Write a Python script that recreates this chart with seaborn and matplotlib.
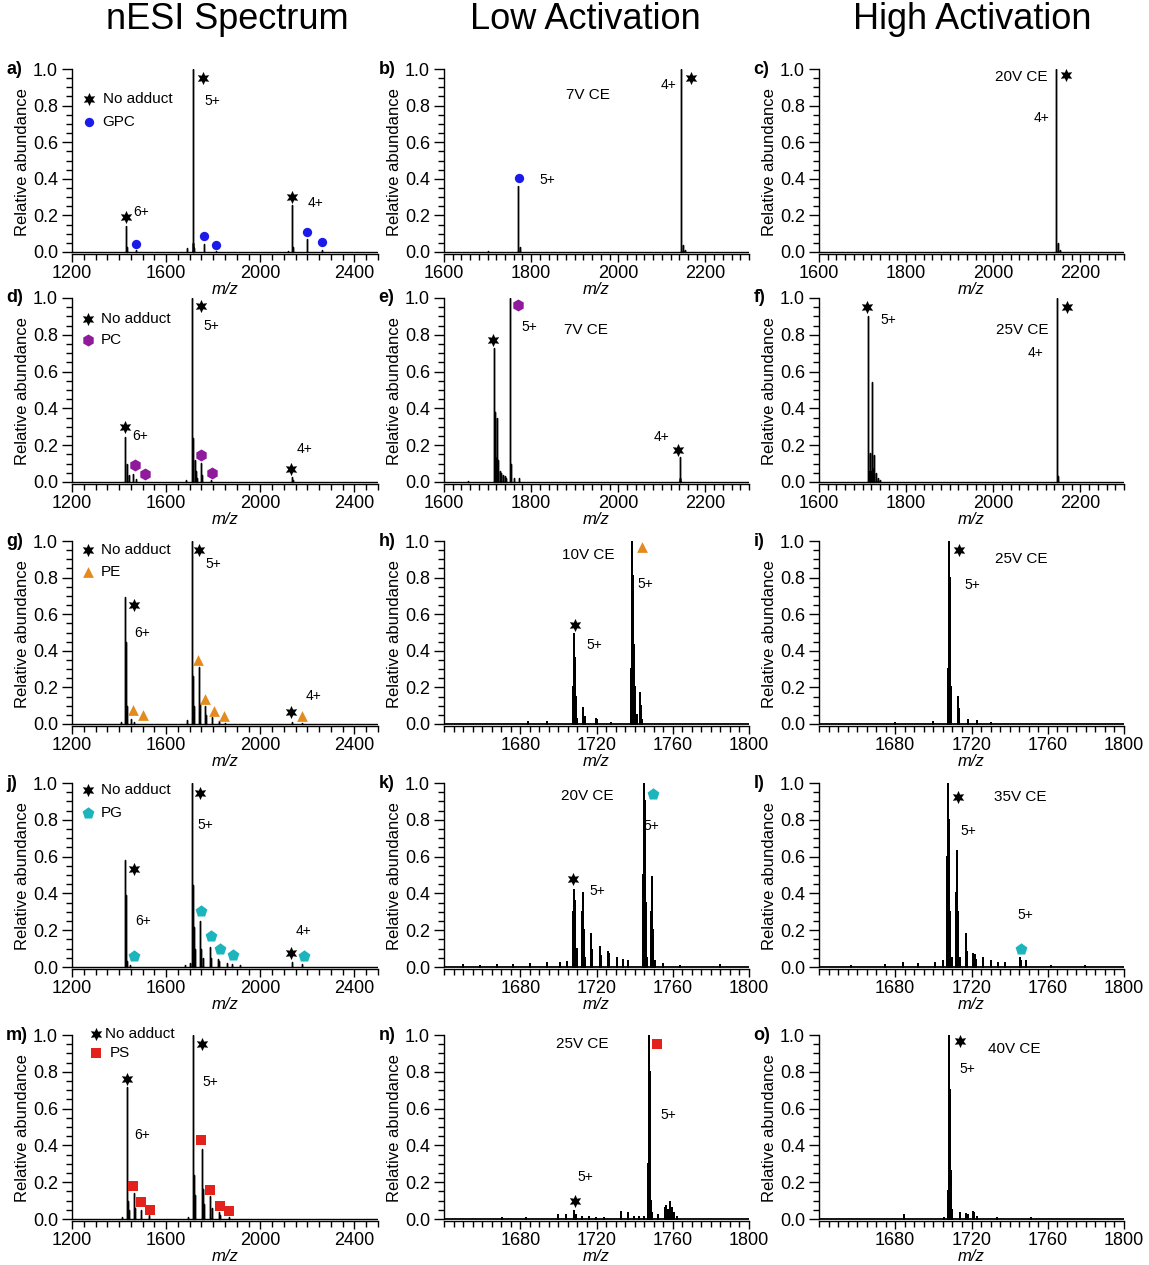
import pandas as pd
import matplotlib
matplotlib.use("Agg")
import matplotlib.pyplot as plt
from matplotlib.ticker import MultipleLocator, FixedLocator, FormatStrFormatter
import seaborn as sns

sns.set_style("ticks")
plt.rcParams['font.family'] = ['Liberation Sans', 'DejaVu Sans']
for k in ('text.color', 'axes.labelcolor', 'xtick.color', 'ytick.color', 'axes.edgecolor'):
    plt.rcParams[k] = 'black'

# columna 1 - nESI
mz_a = [1429, 1433, 1474, 1688, 1712, 1716, 1720, 1761, 1813, 2118, 2136, 2140, 2199, 2262]
ab_a = [0.14, 0.03, 0.012, 0.02, 1.0, 0.05, 0.02, 0.045, 0.008, 0.005, 0.255, 0.03, 0.07, 0.012]
star_a = [(1429, 0.19), (1757, 0.95), (2136, 0.30)]
add_a = [(1474, 0.044), (1761, 0.085), (1813, 0.04), (2199, 0.11), (2262, 0.055)]

mz_d = [1426, 1433.5, 1440.5, 1459, 1470, 1685, 1710.5, 1715, 1720.5, 1726, 1733, 1746, 1753, 1790, 2134, 2138]
ab_d = [0.245, 0.10, 0.04, 0.045, 0.015, 0.01, 1.0, 0.24, 0.12, 0.06, 0.02, 0.105, 0.04, 0.01, 0.027, 0.01]
star_d = [(1424, 0.30), (1746, 0.955), (2130, 0.073)]
add_d = [(1466, 0.09), (1512, 0.045), (1750, 0.149), (1796, 0.049)]

mz_g = [1408, 1426, 1430.7, 1433.5, 1450, 1464, 1689.5, 1710.5, 1713.4, 1717.6, 1738.7, 1743, 1766.8, 1771,
        1795, 1823, 1850, 2134, 2175]
ab_g = [0.01, 0.695, 0.45, 0.10, 0.03, 0.01, 0.02, 1.0, 0.26, 0.10, 0.31, 0.11, 0.10, 0.05,
        0.04, 0.015, 0.008, 0.013, 0.005]
star_g = [(1464, 0.65), (1739, 0.953), (2130, 0.067)]
add_g = [(1460, 0.076), (1502, 0.047), (1737, 0.35), (1767, 0.135), (1802, 0.071), (1847, 0.044), (2175, 0.045)]

mz_j = [1425, 1429, 1433, 1447, 1680, 1700, 1710.5, 1713.4, 1717.6, 1724.6, 1745.7, 1750, 1755.6, 1785, 1790.6,
        1819, 1826, 1858, 1879, 1914, 2135, 2178]
ab_j = [0.58, 0.39, 0.03, 0.01, 0.01, 0.02, 1.0, 0.445, 0.22, 0.10, 0.25, 0.10, 0.05, 0.11, 0.05,
        0.045, 0.03, 0.02, 0.015, 0.01, 0.027, 0.015]
star_j = [(1464, 0.533), (1743, 0.945), (2130, 0.076)]
add_j = [(1464, 0.06), (1746, 0.304), (1791, 0.169), (1830, 0.096), (1882, 0.067), (2185, 0.062)]

mz_m = [1411, 1432, 1436.6, 1442, 1462, 1466, 1494, 1527, 1693, 1714, 1718, 1724, 1752, 1756, 1762,
        1787, 1793, 1822.5, 1829.6, 1865]
ab_m = [0.01, 0.72, 0.10, 0.05, 0.14, 0.06, 0.05, 0.02, 0.01, 1.0, 0.24, 0.13, 0.38, 0.165, 0.08,
        0.125, 0.06, 0.04, 0.02, 0.01]
star_m = [(1432, 0.759), (1752, 0.951)]
add_m = [(1459, 0.179), (1493, 0.094), (1532, 0.051), (1749, 0.429), (1787, 0.158), (1830, 0.072), (1868, 0.045)]

# columna 2 - baja activacion
mz_b = [1700, 1770, 1774, 2145, 2149, 2153]
ab_b = [0.005, 0.36, 0.03, 1.0, 0.04, 0.01]
star_b = [(2168, 0.95)]
add_b = [(1773, 0.404)]

mz_e = [1654, 1714, 1716.4, 1718.6, 1721.7, 1724, 1727.8, 1731.6, 1735, 1739, 1743, 1750.6, 1753, 1760, 1772,
        2140.7, 2142.5]
ab_e = [0.005, 0.73, 0.38, 0.13, 0.35, 0.12, 0.06, 0.05, 0.04, 0.03, 0.02, 1.0, 0.10, 0.02, 0.02,
        0.136, 0.02]
star_e = [(1712.6, 0.773), (2138, 0.176)]
add_e = [(1769.6, 0.96)]

mz_h = [1684, 1694.2, 1707.8, 1708.2, 1708.7, 1709.2, 1709.9, 1713.1, 1713.8, 1719.5, 1720.4, 1727.4,
        1738.3, 1738.8, 1739.3, 1739.8, 1740.3, 1741, 1742.8, 1743.3, 1744]
ab_h = [0.01, 0.01, 0.20, 0.49, 0.36, 0.15, 0.03, 0.09, 0.04, 0.03, 0.02, 0.006,
        0.30, 1.0, 0.81, 0.43, 0.20, 0.05, 0.17, 0.10, 0.02]
star_h = [(1708.5, 0.54)]
add_h = [(1744, 0.967)]

mz_k = [1650, 1659, 1667.6, 1676.4, 1685, 1693.8, 1700.8, 1704.3, 1707.8, 1708.4, 1708.9, 1709.6, 1712.4,
        1712.9, 1713.4, 1714.1, 1717.3, 1717.8, 1721.8, 1722.3, 1725.8, 1726.7, 1730.6, 1734, 1736.7,
        1744.4, 1744.9, 1745.4, 1746, 1746.6, 1748.7, 1749.3, 1749.8, 1750.5, 1755, 1763.8, 1784.8]
ab_k = [0.01, 0.008, 0.01, 0.01, 0.015, 0.02, 0.02, 0.025, 0.30, 0.42, 0.36, 0.10, 0.30,
        0.40, 0.20, 0.05, 0.18, 0.09, 0.11, 0.06, 0.08, 0.07, 0.05, 0.04, 0.03,
        0.50, 1.0, 0.90, 0.35, 0.05, 0.30, 0.49, 0.20, 0.03, 0.015, 0.008, 0.01]
star_k = [(1707.8, 0.476)]
add_k = [(1749.8, 0.942)]

mz_n = [1670.6, 1682.8, 1700, 1703.8, 1708.4, 1709.1, 1712.6, 1716, 1719.5, 1723.9, 1732.7, 1736.7, 1739.7,
        1742.3, 1744.9, 1747.1, 1747.7, 1748.2, 1748.7, 1749.3, 1752.4, 1755.9, 1756.6, 1757.7, 1758.7,
        1759.4, 1760.6, 1762.4]
ab_n = [0.005, 0.005, 0.02, 0.02, 0.045, 0.02, 0.01, 0.01, 0.008, 0.008, 0.04, 0.035, 0.01,
        0.01, 0.01, 0.30, 1.0, 0.80, 0.10, 0.03, 0.02, 0.06, 0.07, 0.05, 0.09,
        0.06, 0.03, 0.01]
star_n = [(1708.5, 0.098)]
add_n = [(1751.9, 0.949)]

# columna 3 - alta activacion
mz_c = [2145, 2149, 2153]
ab_c = [1.0, 0.05, 0.01]
star_c = [(2167, 0.967)]

mz_f = [1713.5, 1716, 1718, 1721, 1724, 1727, 1730, 1735, 1740, 2146, 2149]
ab_f = [0.904, 0.16, 0.06, 0.545, 0.07, 0.145, 0.05, 0.02, 0.01, 1.0, 0.03]
star_f = [(1711, 0.951), (2169, 0.951)]

mz_i = [1680, 1700, 1707.7, 1708.2, 1708.7, 1709.2, 1713, 1713.5, 1718, 1723, 1730]
ab_i = [0.008, 0.01, 0.30, 1.0, 0.80, 0.20, 0.15, 0.08, 0.02, 0.015, 0.005]
star_i = [(1713.5, 0.95)]

mz_l = [1657, 1674.4, 1684, 1692, 1700.7, 1705, 1707.3, 1707.8, 1708.4, 1708.9, 1709.6, 1712, 1712.6,
        1713.1, 1713.8, 1717.3, 1717.8, 1720.8, 1721.6, 1722.5, 1726, 1730.4, 1733.9, 1737.4, 1745.2,
        1745.8, 1748.7, 1761.9, 1779.3]
ab_l = [0.008, 0.01, 0.02, 0.015, 0.02, 0.03, 0.60, 1.0, 0.80, 0.30, 0.05, 0.40, 0.63,
        0.30, 0.05, 0.18, 0.08, 0.07, 0.065, 0.04, 0.05, 0.03, 0.02, 0.02, 0.05,
        0.03, 0.03, 0.008, 0.008]
star_l = [(1712.9, 0.925)]
add_l = [(1746.1, 0.10)]

mz_o = [1684.6, 1705.6, 1707.8, 1708.4, 1708.9, 1709.4, 1709.9, 1713.8, 1716.9, 1718.1, 1720.8, 1721.5,
        1723, 1733.5, 1751]
ab_o = [0.02, 0.005, 0.15, 1.0, 0.70, 0.26, 0.05, 0.03, 0.025, 0.02, 0.04, 0.03,
        0.01, 0.005, 0.003]
star_o = [(1713.8, 0.969)]

# lipidos: color, marcador, tamano
lipids = {
    'GPC': ('#1a1aeb', 'o', 45),
    'PC': ('#8f1b9c', 'h', 75),
    'PE': ('#e38b1f', '^', 60),
    'PG': ('#1cb5bd', 'p', 80),
    'PS': ('#e3231b', 's', 42),
}
STAR = (6, 1, 0)

## DISENO DE LOS PANELES
W, H = 1149, 1265
col_left = [72, 444, 819]
col_width = [306, 305, 305]
row_top = [69, 298, 541, 783, 1035]
row_zero = [252, 482, 724, 967, 1219]
Y0 = -0.012

WIDE = ((1200, 2500), 400, 50, None)
MID = ((1600, 2300), 200, 20, None)
ZOOM = ((1640, 1800), 40, 5, [1680, 1720, 1760, 1800])

panels = [
    # letra, fila, col, eje, picos, estrellas, aductos, lipido, leyenda, etiquetas, CE
    ('a)', 0, 0, WIDE, mz_a, ab_a, star_a, add_a, 'GPC', (0.056, 0.10, 0.835, 0.713),
     [(1495, 0.22, '6+'), (1796, 0.827, '5+'), (2234, 0.267, '4+')], None),
    ('d)', 1, 0, WIDE, mz_d, ab_d, star_d, add_d, 'PC', (0.051, 0.095, 0.885, 0.773),
     [(1490, 0.25, '6+'), (1791, 0.85, '5+'), (2186, 0.18, '4+')], None),
    ('g)', 2, 0, WIDE, mz_g, ab_g, star_g, add_g, 'PE', (0.051, 0.095, 0.949, 0.831),
     [(1497, 0.495, '6+'), (1799, 0.876, '5+'), (2227, 0.155, '4+')], None),
    ('j)', 3, 0, WIDE, mz_j, ab_j, star_j, add_j, 'PG', (0.051, 0.095, 0.964, 0.836),
     [(1504, 0.251, '6+'), (1767, 0.773, '5+'), (2185, 0.196, '4+')], None),
    ('m)', 4, 0, WIDE, mz_m, ab_m, star_m, add_m, 'PS', (0.078, 0.108, 1.005, 0.90),
     [(1496, 0.457, '6+'), (1787, 0.746, '5+')], None),
    ('b)', 0, 1, MID, mz_b, ab_b, star_b, add_b, 'GPC', None,
     [(1838, 0.393, '5+'), (2115, 0.91, '4+')], (1930, 0.858, '7V CE')),
    ('e)', 1, 1, MID, mz_e, ab_e, star_e, add_e, 'PC', None,
     [(1796, 0.84, '5+'), (2099, 0.245, '4+')], (1925, 0.827, '7V CE')),
    ('h)', 2, 1, ZOOM, mz_h, ab_h, star_h, add_h, 'PE', None,
     [(1718.7, 0.431, '5+'), (1745.8, 0.764, '5+')], (1715.5, 0.922, '10V CE')),
    ('k)', 3, 1, ZOOM, mz_k, ab_k, star_k, add_k, 'PG', None,
     [(1720.4, 0.413, '5+'), (1749, 0.764, '5+')], (1715.2, 0.927, '20V CE')),
    ('n)', 4, 1, ZOOM, mz_n, ab_n, star_n, add_n, 'PS', None,
     [(1714.3, 0.23, '5+'), (1757.7, 0.565, '5+')], (1712.6, 0.951, '25V CE')),
    ('c)', 0, 2, MID, mz_c, ab_c, star_c, [], None, None,
     [(2110, 0.73, '4+')], (2064, 0.956, '20V CE')),
    ('f)', 1, 2, MID, mz_f, ab_f, star_f, [], None, None,
     [(1760, 0.878, '5+'), (2098, 0.70, '4+')], (2067, 0.827, '25V CE')),
    ('i)', 2, 2, ZOOM, mz_i, ab_i, star_i, [], None, None,
     [(1720.3, 0.76, '5+')], (1746, 0.90, '25V CE')),
    ('l)', 3, 2, ZOOM, mz_l, ab_l, star_l, add_l, 'PG', None,
     [(1718.1, 0.74, '5+'), (1748.2, 0.282, '5+')], (1745.8, 0.922, '35V CE')),
    ('o)', 4, 2, ZOOM, mz_o, ab_o, star_o, [], None, None,
     [(1717.8, 0.813, '5+')], (1742.3, 0.922, '40V CE')),
]


def stick_frame(mz, ab, xlim):
    # espectro de barras como una sola linea que sube y baja desde la linea base
    xs, ys = [xlim[0]], [0.0]
    for m, a in sorted(zip(mz, ab)):
        xs += [m, m, m]
        ys += [0.0, a, 0.0]
    xs.append(xlim[1])
    ys.append(0.0)
    return pd.DataFrame({'mz': xs, 'ab': ys})


fig = plt.figure(figsize=(W / 100, H / 100), dpi=100)

for (letter, r, c, axis, mz, ab, stars, adds, lipid, legend, charges, ce) in panels:
    top, zero = row_top[r], row_zero[r]
    bottom = zero + (-Y0) * (zero - top)
    ax = fig.add_axes([col_left[c] / W, 1 - bottom / H, col_width[c] / W, (bottom - top) / H])
    xlim, major, minor, fixed = axis

    df = stick_frame(mz, ab, xlim)
    lw = 1.3 if fixed else 1.0
    sns.lineplot(data=df, x='mz', y='ab', sort=False, estimator=None, color='black', lw=lw, ax=ax)

    sx, sy = zip(*stars)
    sns.scatterplot(x=list(sx), y=list(sy), marker=STAR, s=90, color='black', linewidth=0, ax=ax, zorder=4)
    if adds:
        col, mk, size = lipids[lipid]
        axx, axy = zip(*adds)
        sns.scatterplot(x=list(axx), y=list(axy), marker=mk, s=size, color=col, linewidth=0, ax=ax, zorder=4)

    for (tx, ty, t) in charges:
        ax.text(tx, ty, t, fontsize=10, ha='center', va='center')
    if ce:
        ax.text(ce[0], ce[1], ce[2], fontsize=11, ha='center', va='center')

    if legend:
        mx, tx, y1, y2 = legend
        tr = ax.get_yaxis_transform()
        col, mk, size = lipids[lipid]
        ax.scatter([mx], [y1], marker=STAR, s=90, color='black', linewidths=0, transform=tr, clip_on=False)
        ax.text(tx, y1, 'No adduct', fontsize=11, va='center', ha='left', transform=tr)
        ax.scatter([mx], [y2], marker=mk, s=size, color=col, linewidths=0, transform=tr, clip_on=False)
        ax.text(tx + (0.016 if lipid == 'PS' else 0), y2, lipid, fontsize=11, va='center', ha='left', transform=tr)

    # ejes estilo Igor
    ax.set_xlim(*xlim)
    ax.set_ylim(Y0, 1.0)
    sns.despine(ax=ax)
    ax.spines['left'].set_bounds(0, 1)
    for s in ('left', 'bottom'):
        ax.spines[s].set_linewidth(1.0)
    if fixed:
        ax.xaxis.set_major_locator(FixedLocator(fixed))
    else:
        ax.xaxis.set_major_locator(MultipleLocator(major))
    ax.xaxis.set_minor_locator(MultipleLocator(minor))
    ax.yaxis.set_major_locator(MultipleLocator(0.2))
    ax.yaxis.set_minor_locator(MultipleLocator(0.05))
    ax.yaxis.set_major_formatter(FormatStrFormatter('%.1f'))
    ax.tick_params(axis='y', which='major', length=7, width=1, pad=3, labelsize=13)
    ax.tick_params(axis='y', which='minor', length=4, width=1)
    ax.tick_params(axis='x', which='major', length=6, width=1, pad=2, labelsize=13)
    ax.tick_params(axis='x', which='minor', length=4, width=1)

    ax.set_xlabel('m/z', fontsize=12, style='italic', labelpad=0)
    ax.set_ylabel('Relative abundance', fontsize=12, labelpad=2)
    ax.text(-0.215, 1.0, letter, transform=ax.transAxes, fontsize=13, fontweight='bold',
            ha='left', va='center')

# titulos de columna
for x, t in [(227, 'nESI Spectrum'), (585, 'Low Activation'), (972, 'High Activation')]:
    fig.text(x / W, 1 - 29 / H, t, fontsize=26, ha='center', va='baseline')

plt.savefig('out.png', dpi=100)
